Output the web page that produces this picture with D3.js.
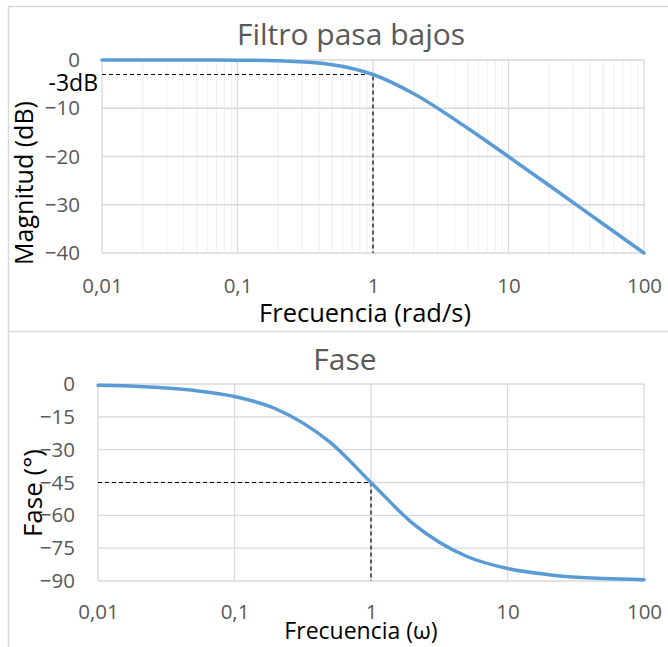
<!DOCTYPE html>
<html lang="es">
<head>
  <meta charset="UTF-8">
  <script src="https://cdn.jsdelivr.net/npm/d3@7"></script>
  <title>Filtro pasa bajos</title>
  <style>
    body { margin: 0; background: #fff; }
    text { font-family: "Open Sans", "Noto Sans", sans-serif; }
  </style>
</head>
<body>
<script>
  // datos
  const freq = [0.01, 0.02, 0.05, 0.1, 0.2, 0.5, 1, 2, 5, 10, 20, 50, 100];
  const magnitude = [0, 0, -0.01, -0.04, -0.17, -0.97, -3.01, -6.99, -14.15, -20.04, -26.02, -33.98, -40];
  const phase = [-0.6, -1.1, -2.9, -5.7, -11.3, -26.6, -45, -63.4, -78.7, -84.3, -87.1, -88.9, -89.4];
  const freqTicks = [0.01, 0.1, 1, 10, 100];
  const freqTickLabels = ["0,01", "0,1", "1", "10", "100"];
  const magTicks = [0, -10, -20, -30, -40];
  const phaseTicks = [0, -15, -30, -45, -60, -75, -90];
  const cutoff = { w: 1, mag: -3, phase: -45 };

  const w = 668, h = 647;
  const blue = "#5b9bd5", grey = "#595959", grid = "#d9d9d9", minor = "#f2f2f2";

  const svg = d3.select("body").append("svg")
    .attr("width", w).attr("height", h);

  // bordes de los dos graficos
  svg.append("path")
    .attr("d", "M668,6.5H8.5V331.5H668M8.5,331.5V647")
    .attr("fill", "none").attr("stroke", grid).attr("stroke-width", 1.5);

  function chart(opt) {
    const x = d3.scaleLog().domain([0.01, 100]).range(opt.xr);
    const y = d3.scaleLinear().domain(opt.yd).range(opt.yr);
    const g = svg.append("g");

    // rejilla secundaria
    if (opt.minorGrid) {
      g.append("g").selectAll("line")
        .data(x.ticks().filter(t => !freqTicks.includes(t)))
        .join("line")
        .attr("x1", d => x(d)).attr("x2", d => x(d))
        .attr("y1", opt.yr[1]).attr("y2", opt.yr[0])
        .attr("stroke", minor).attr("stroke-width", 1.3);
    }
    // rejilla principal
    g.append("g").selectAll("line").data(freqTicks).join("line")
      .attr("x1", d => x(d)).attr("x2", d => x(d))
      .attr("y1", opt.yr[1]).attr("y2", opt.yr[0])
      .attr("stroke", grid).attr("stroke-width", 1.3);
    g.append("g").selectAll("line").data(opt.yTicks).join("line")
      .attr("x1", opt.xr[0]).attr("x2", opt.xr[1])
      .attr("y1", d => y(d)).attr("y2", d => y(d))
      .attr("stroke", grid).attr("stroke-width", 1.3);

    // ejes
    const xa = g.append("g").attr("transform", `translate(0,${opt.yr[0]})`)
      .call(d3.axisBottom(x).tickValues(freqTicks)
        .tickFormat((d, i) => freqTickLabels[i]).tickSize(0).tickPadding(opt.xPad));
    const ya = g.append("g").attr("transform", `translate(${opt.xr[0]},0)`)
      .call(d3.axisLeft(y).tickValues(opt.yTicks).tickSize(0).tickPadding(opt.yPad));
    [xa, ya].forEach(a => {
      a.select(".domain").remove();
      a.selectAll("text").attr("fill", grey).style("font-size", "20.5px")
        .style("font-family", "'Open Sans', sans-serif");
    });

    // lineas de corte
    const cy = y(opt.cut);
    g.append("path")
      .attr("d", `M${opt.xr[0]},${cy}H${x(cutoff.w)}V${opt.yr[0]}`)
      .attr("fill", "none").attr("stroke", "#000").attr("stroke-width", 1.2)
      .attr("stroke-dasharray", "4,3");

    // curva
    g.append("path")
      .datum(freq.map((f, i) => [f, opt.values[i]]))
      .attr("fill", "none").attr("stroke", blue).attr("stroke-width", 3.5)
      .attr("stroke-linecap", "round")
      .attr("d", d3.line().x(d => x(d[0])).y(d => y(d[1])).curve(d3.curveMonotoneX));

    // textos
    g.append("text").attr("x", opt.title[1]).attr("y", opt.title[2])
      .attr("text-anchor", "middle").attr("fill", grey).style("font-size", "30px")
      .text(opt.title[0]);
    g.append("text").attr("x", opt.xTitle[1]).attr("y", opt.xTitle[2])
      .attr("text-anchor", "middle").attr("fill", "#000").style("font-size", opt.xTitle[3] + "px")
      .text(opt.xTitle[0]);
    g.append("text")
      .attr("transform", `translate(${opt.yTitle[1]},${opt.yTitle[2]}) rotate(-90)`)
      .attr("text-anchor", "middle").attr("fill", "#000").style("font-size", opt.yTitle[3] + "px")
      .text(opt.yTitle[0]);
    return { x, y, g };
  }

  const magChart = chart({
    xr: [102, 644], yr: [253, 60], yd: [-40, 0], yTicks: magTicks,
    values: magnitude, cut: cutoff.mag, minorGrid: true, xPad: 25, yPad: 22,
    title: ["Filtro pasa bajos", 351, 45],
    xTitle: ["Frecuencia (rad/s)", 365, 322, 25.5],
    yTitle: ["Magnitud (dB)", 33, 183, 25]
  });
  magChart.g.append("text").attr("x", 98).attr("y", 91)
    .attr("text-anchor", "end").attr("fill", "#000").style("font-size", "23px")
    .text("-3dB");

  const phaseChart = chart({
    xr: [98, 644], yr: [581, 384], yd: [-90, 0], yTicks: phaseTicks,
    values: phase, cut: cutoff.phase, minorGrid: false, xPad: 23, yPad: 23,
    title: ["Fase", 345, 370],
    xTitle: ["Frecuencia (ω)", 361, 639, 23],
    yTitle: ["Fase (°)", 42, 493, 26]
  });
</script>
</body>
</html>
